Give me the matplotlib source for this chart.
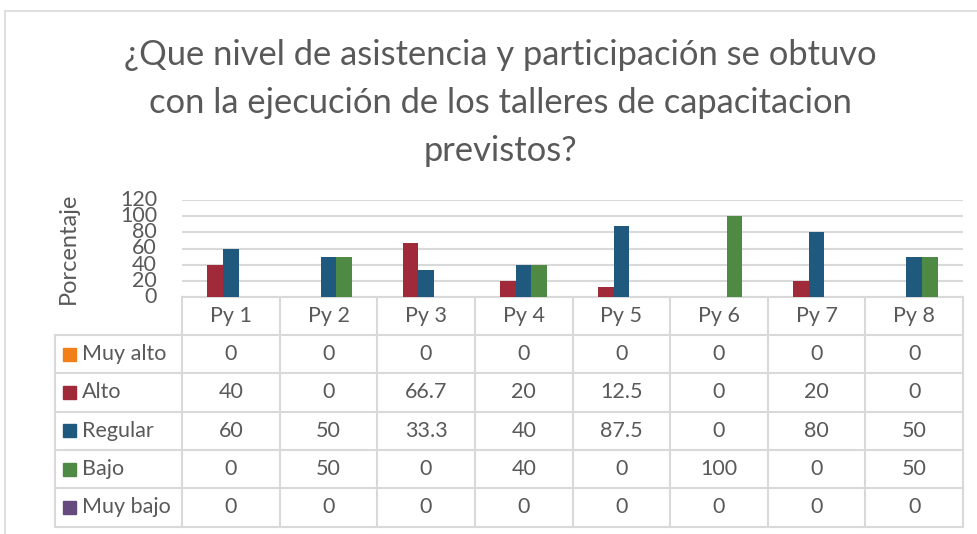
import numpy as np
import matplotlib
matplotlib.use("Agg")
import matplotlib.pyplot as plt
from matplotlib.patches import Rectangle

# data
proyectos = ["Py 1", "Py 2", "Py 3", "Py 4", "Py 5", "Py 6", "Py 7", "Py 8"]
series = ["Muy alto", "Alto", "Regular", "Bajo", "Muy bajo"]
muy_alto = [0, 0, 0, 0, 0, 0, 0, 0]
alto = [40, 0, 66.7, 20, 12.5, 0, 20, 0]
regular = [60, 50, 33.3, 40, 87.5, 0, 80, 50]
bajo = [0, 50, 0, 40, 0, 100, 0, 50]
muy_bajo = [0, 0, 0, 0, 0, 0, 0, 0]
valores = [muy_alto, alto, regular, bajo, muy_bajo]
colores = ["#f28018", "#a12a3a", "#1f5a7e", "#4f8a44", "#654a7d"]
yticks = [0, 20, 40, 60, 80, 100, 120]

txt = "#595959"
grid = "#d9d9d9"
plt.rcParams["font.family"] = ["Lato", "DejaVu Sans"]

W, H = 977, 534
fig = plt.figure(figsize=(W / 100, H / 100), dpi=100)

# layout in pixels
x_left, x_right = 182, 963
y_top, y_zero = 200, 297
leg_left = 55
row_top = 335
row_h = 38.3

# outer chart border
fig.add_artist(Rectangle((5 / W, -0.1), 1.1, (H - 11) / H + 0.1, transform=fig.transFigure,
                         fill=False, edgecolor=grid, lw=1.2))

fig.text(0.512, 1 - 103 / H,
         "¿Que nivel de asistencia y participación se obtuvo\ncon la ejecución de los talleres de capacitacion\nprevistos?",
         ha="center", va="center", fontsize=24.8, color=txt, linespacing=1.62)

ax = fig.add_axes([x_left / W, 1 - y_zero / H, (x_right - x_left) / W, (y_zero - y_top) / H])
x = np.arange(len(proyectos))
bw = 0.16
for i, (vals, c) in enumerate(zip(valores, colores)):
    ax.bar(x + (i - 2) * bw, vals, bw, color=c, zorder=3)
ax.set_xlim(-0.5, len(proyectos) - 0.5)
ax.set_ylim(0, 120)
ax.set_yticks(yticks)
ax.set_xticks([])
ax.yaxis.grid(True, color=grid, lw=1.5, zorder=0)
for s in ["top", "right", "left"]:
    ax.spines[s].set_visible(False)
ax.spines["bottom"].set_color(grid)
ax.spines["bottom"].set_linewidth(1.5)
ax.tick_params(axis="y", length=0, pad=18, labelsize=15.5, labelcolor=txt)
for lab in ax.get_yticklabels():
    lab.set_verticalalignment("center")
ax.set_ylabel("Porcentaje", fontsize=17, color=txt)
ax.yaxis.set_label_coords(-0.132, 0.5)

# data table below the plot
tb = fig.add_axes([0, 0, 1, 1])
tb.set_xlim(0, W)
tb.set_ylim(H, 0)
tb.axis("off")
col_w = (x_right - x_left) / len(proyectos)
n_rows = len(series)
y_bottom = row_top + n_rows * row_h
lk = dict(color=grid, lw=1.5)
# vertical lines
for j in range(len(proyectos) + 1):
    xx = x_left + j * col_w
    tb.plot([xx, xx], [y_zero, y_bottom], **lk)
tb.plot([leg_left, leg_left], [row_top, y_bottom], **lk)
# horizontal lines
for r in range(n_rows + 1):
    yy = row_top + r * row_h
    tb.plot([leg_left, x_right], [yy, yy], **lk)

fs = 15.5
for j, p in enumerate(proyectos):
    tb.text(x_left + (j + 0.5) * col_w, (y_zero + row_top) / 2, p,
            ha="center", va="center", fontsize=fs, color=txt)
for r, (name, vals, c) in enumerate(zip(series, valores, colores)):
    yc = row_top + (r + 0.5) * row_h
    tb.add_patch(Rectangle((63, yc - 6.5), 13, 13, color=c))
    tb.text(82, yc, name, ha="left", va="center", fontsize=fs, color=txt)
    for j, v in enumerate(vals):
        tb.text(x_left + (j + 0.5) * col_w, yc, f"{v:g}",
                ha="center", va="center", fontsize=fs, color=txt)

fig.savefig("out.png", dpi=100)
